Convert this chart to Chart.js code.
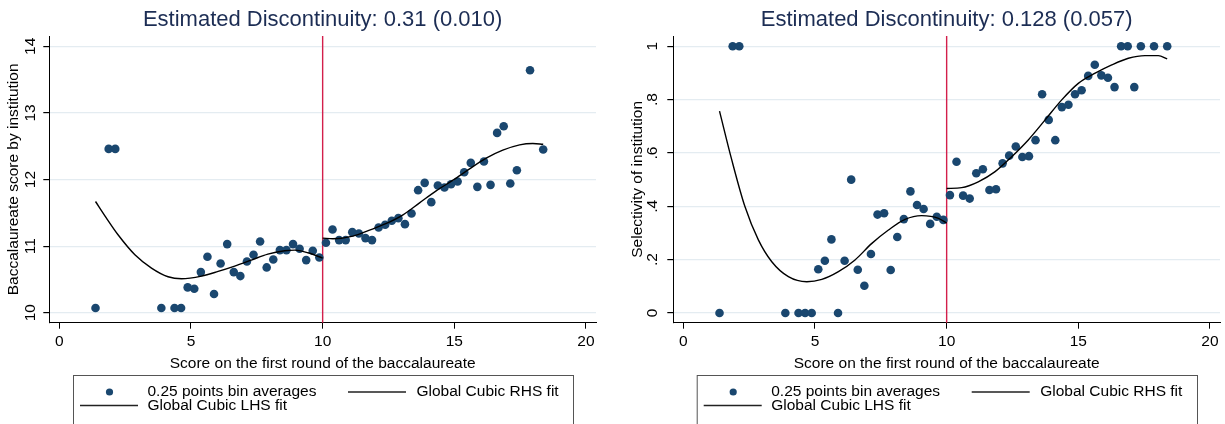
<!DOCTYPE html>
<html>
<head>
<meta charset="utf-8">
<script src="https://cdn.jsdelivr.net/npm/chart.js@4.4.1/dist/chart.umd.min.js"></script>
<style>
  body { margin: 0; background: #fff; }
  .panel { position: absolute; top: 0; height: 424px; }
  #p1 { left: 0; width: 612px; }
  #p2 { left: 612px; width: 613px; }
</style>
</head>
<body>
<div class="panel" id="p1"><canvas id="bac"></canvas></div>
<div class="panel" id="p2"><canvas id="sel"></canvas></div>
<script>
// 0.25 point bins of the first-round score (bin centres)
const binCentres = [1.375, 1.875, 2.125, 3.875, 4.375, 4.625, 4.875, 5.125, 5.375, 5.625,
  5.875, 6.125, 6.375, 6.625, 6.875, 7.125, 7.375, 7.625, 7.875, 8.125,
  8.375, 8.625, 8.875, 9.125, 9.375, 9.625, 9.875,
  10.125, 10.375, 10.625, 10.875, 11.125, 11.375, 11.625, 11.875, 12.125, 12.375,
  12.625, 12.875, 13.125, 13.375, 13.625, 13.875, 14.125, 14.375, 14.625, 14.875,
  15.125, 15.375, 15.625, 15.875, 16.125, 16.375, 16.625, 16.875, 17.125, 17.375,
  17.875, 18.375];

// bin averages: baccalaureate score by institution
const bacScore = [10.07, 12.46, 12.46, 10.07, 10.07, 10.07, 10.38, 10.36, 10.61, 10.84,
  10.28, 10.74, 11.03, 10.61, 10.55, 10.77, 10.87, 11.07, 10.68, 10.80,
  10.94, 10.94, 11.03, 10.96, 10.79, 10.93, 10.83,
  11.05, 11.25, 11.09, 11.09, 11.21, 11.19, 11.12, 11.09, 11.28, 11.32,
  11.38, 11.42, 11.33, 11.49, 11.84, 11.95, 11.66, 11.91, 11.88, 11.93,
  11.97, 12.11, 12.25, 11.89, 12.27, 11.92, 12.70, 12.80, 11.94, 12.14,
  13.64, 12.45];

// bin averages: selectivity of institution
const selectivity = [0, 1, 1, 0, 0, 0, 0, 0.164, 0.196, 0.276,
  0, 0.196, 0.50, 0.162, 0.102, 0.221, 0.369, 0.374, 0.161, 0.285,
  0.352, 0.456, 0.405, 0.39, 0.334, 0.361, 0.349,
  0.442, 0.567, 0.44, 0.429, 0.524, 0.539, 0.461, 0.464, 0.561, 0.59,
  0.624, 0.585, 0.588, 0.648, 0.82, 0.724, 0.648, 0.772, 0.781, 0.82,
  0.835, 0.889, 0.931, 0.891, 0.882, 0.847, 1, 1, 0.847, 1,
  1, 1];

// global cubic fits, each side of the cutoff
const bacLhsX = [1.375, 1.79, 2.23, 2.87, 3.50, 4.13, 4.64, 5.40, 6.03, 6.66, 7.29, 7.92, 8.56, 8.94, 9.44, 10];
const bacLhsY = [11.67, 11.42, 11.17, 10.87, 10.67, 10.54, 10.51, 10.55, 10.62, 10.70, 10.79, 10.88, 10.93, 10.94, 10.90, 10.82];
const bacRhsX = [10, 10.39, 11.15, 11.78, 12.42, 13.05, 13.68, 14.31, 14.95, 15.58, 16.21, 16.84, 17.48, 17.98, 18.375];
const bacRhsY = [11.12, 11.11, 11.15, 11.24, 11.34, 11.47, 11.65, 11.83, 11.99, 12.16, 12.32, 12.44, 12.52, 12.54, 12.53];

const selLhsX = [1.375, 1.84, 2.34, 2.85, 3.36, 3.99, 4.69, 5.26, 5.89, 6.52, 7.16, 7.79, 8.42, 9.05, 9.69, 10];
const selLhsY = [0.757, 0.574, 0.399, 0.274, 0.192, 0.136, 0.117, 0.126, 0.155, 0.199, 0.261, 0.311, 0.351, 0.365, 0.355, 0.337];
const selRhsX = [10, 10.57, 11.20, 11.84, 12.47, 13.10, 13.74, 14.37, 15.0, 15.64, 16.27, 16.9, 17.53, 18.04, 18.375];
const selRhsY = [0.467, 0.470, 0.492, 0.530, 0.586, 0.649, 0.724, 0.799, 0.861, 0.899, 0.93, 0.955, 0.965, 0.965, 0.953];

const cutoff = 10;
const xTicks = [0, 5, 10, 15, 20];
const bacTicks = [10, 11, 12, 13, 14];
const bacTickLabels = ['10', '11', '12', '13', '14'];
const selTicks = [0, 0.2, 0.4, 0.6, 0.8, 1];
const selTickLabels = ['0', '.2', '.4', '.6', '.8', '1'];

const FONT = 'Liberation Sans, Arial, Helvetica, sans-serif';
const NAVY = '#1a476f';
const GRID = '#e4ecf1';

const pts = (xs, ys) => xs.map((x, i) => ({ x: x, y: ys[i] }));

// vertical line at the cutoff
const cutoffLine = {
  id: 'cutoffLine',
  beforeDatasetsDraw(chart) {
    const { ctx, chartArea, scales } = chart;
    const x = scales.x.getPixelForValue(cutoff);
    ctx.save();
    ctx.strokeStyle = '#d31f4b';
    ctx.lineWidth = 1.4;
    ctx.beginPath();
    ctx.moveTo(x, chartArea.top);
    ctx.lineTo(x, chartArea.bottom);
    ctx.stroke();
    ctx.restore();
  }
};

// boxed legend under the axis title
const legendBox = {
  id: 'legendBox',
  afterDraw(chart, args, opts) {
    const ctx = chart.ctx;
    const L = opts.left, R = opts.right, top = 375;
    const row1 = 392, row2 = 405.5;
    const ds = chart.data.datasets;
    ctx.save();
    ctx.strokeStyle = '#555';
    ctx.lineWidth = 1;
    ctx.strokeRect(L + 0.5, top + 0.5, R - L, 80);

    ctx.fillStyle = NAVY;
    ctx.beginPath();
    ctx.arc(L + 36.5, row1, 3.6, 0, Math.PI * 2);
    ctx.fill();

    ctx.strokeStyle = '#222';
    ctx.lineWidth = 1.4;
    ctx.beginPath();
    ctx.moveTo(L + 275, row1); ctx.lineTo(L + 333, row1);
    ctx.moveTo(L + 7, row2); ctx.lineTo(L + 65, row2);
    ctx.stroke();

    ctx.fillStyle = '#000';
    ctx.font = '15.5px ' + FONT;
    ctx.textBaseline = 'middle';
    ctx.fillText(ds[2].label, L + 74.5, row1);
    ctx.fillText(ds[1].label, L + 343.5, row1);
    ctx.fillText(ds[0].label, L + 74.5, row2);
    ctx.restore();
  }
};

function panel(id, o) {
  return new Chart(document.getElementById(id), {
    type: 'scatter',
    data: {
      datasets: [
        { type: 'line', label: 'Global Cubic LHS fit', data: pts(o.lhsX, o.lhsY),
          borderColor: '#000', borderWidth: 1.4, pointRadius: 0, fill: false,
          cubicInterpolationMode: 'monotone', order: 1 },
        { type: 'line', label: 'Global Cubic RHS fit', data: pts(o.rhsX, o.rhsY),
          borderColor: '#000', borderWidth: 1.4, pointRadius: 0, fill: false,
          cubicInterpolationMode: 'monotone', order: 2 },
        { label: '0.25 points bin averages', data: pts(binCentres, o.values),
          backgroundColor: NAVY, borderWidth: 0, pointRadius: 4.3, order: 3 }
      ]
    },
    options: {
      responsive: true,
      maintainAspectRatio: false,
      animation: false,
      layout: { padding: { left: 0, right: o.padRight, top: 0, bottom: 0 } },
      plugins: {
        legend: { display: false },
        tooltip: { enabled: false },
        title: {
          display: true, text: o.title, fullSize: false, color: '#1c2d54',
          font: { family: FONT, size: 22, weight: 'normal' },
          padding: { top: 7, bottom: 2.6 }
        },
        legendBox: { left: o.legendLeft, right: o.legendRight }
      },
      scales: {
        x: {
          type: 'linear', min: -0.38, max: 20.38,
          afterBuildTicks: s => { s.ticks = xTicks.map(v => ({ value: v })); },
          afterFit: s => { s.height = 101.3; },
          grid: { drawOnChartArea: false, tickLength: 6, tickColor: '#000' },
          border: { color: '#000', width: 1 },
          ticks: { color: '#000', font: { family: FONT, size: 15.5 }, padding: 4, maxRotation: 0, autoSkip: false },
          title: {
            display: true, text: 'Score on the first round of the baccalaureate', color: '#000',
            font: { family: FONT, size: 15.5 }, padding: { top: 0, bottom: 51.4 }
          }
        },
        y: {
          type: 'linear', min: o.yMin, max: o.yMax,
          afterBuildTicks: s => { s.ticks = o.yTicks.map(v => ({ value: v })); },
          afterFit: s => { s.width = o.yWidth; },
          grid: { color: GRID, lineWidth: 1.2, tickLength: 6, tickColor: '#000' },
          border: { color: '#000', width: 1 },
          ticks: {
            color: '#000', font: { family: FONT, size: 15.5 },
            minRotation: 90, maxRotation: 90, crossAlign: 'center', padding: o.yTickPad,
            callback: (v, i) => o.yLabels[i]
          },
          title: {
            display: true, text: o.yTitle, color: '#000',
            font: { family: FONT, size: 15.5 }, padding: { top: o.yTitlePad, bottom: 0 }
          }
        }
      }
    },
    plugins: [cutoffLine, legendBox]
  });
}

panel('bac', {
  title: 'Estimated Discontinuity: 0.31 (0.010)',
  values: bacScore,
  lhsX: bacLhsX, lhsY: bacLhsY, rhsX: bacRhsX, rhsY: bacRhsY,
  yMin: 9.85, yMax: 14.155, yTicks: bacTicks, yLabels: bacTickLabels,
  yTitle: 'Baccalaureate score by institution',
  yWidth: 49.3, yTickPad: 4.2, yTitlePad: 4.7, padRight: 16,
  legendLeft: 73, legendRight: 573
});

panel('sel', {
  title: 'Estimated Discontinuity: 0.128 (0.057)',
  values: selectivity,
  lhsX: selLhsX, lhsY: selLhsY, rhsX: selRhsX, rhsY: selRhsY,
  yMin: -0.0364, yMax: 1.0386, yTicks: selTicks, yLabels: selTickLabels,
  yTitle: 'Selectivity of institution',
  yWidth: 61.3, yTickPad: 8.3, yTitlePad: 16.1, padRight: 5,
  legendLeft: 84.7, legendRight: 585
});
</script>
</body>
</html>
